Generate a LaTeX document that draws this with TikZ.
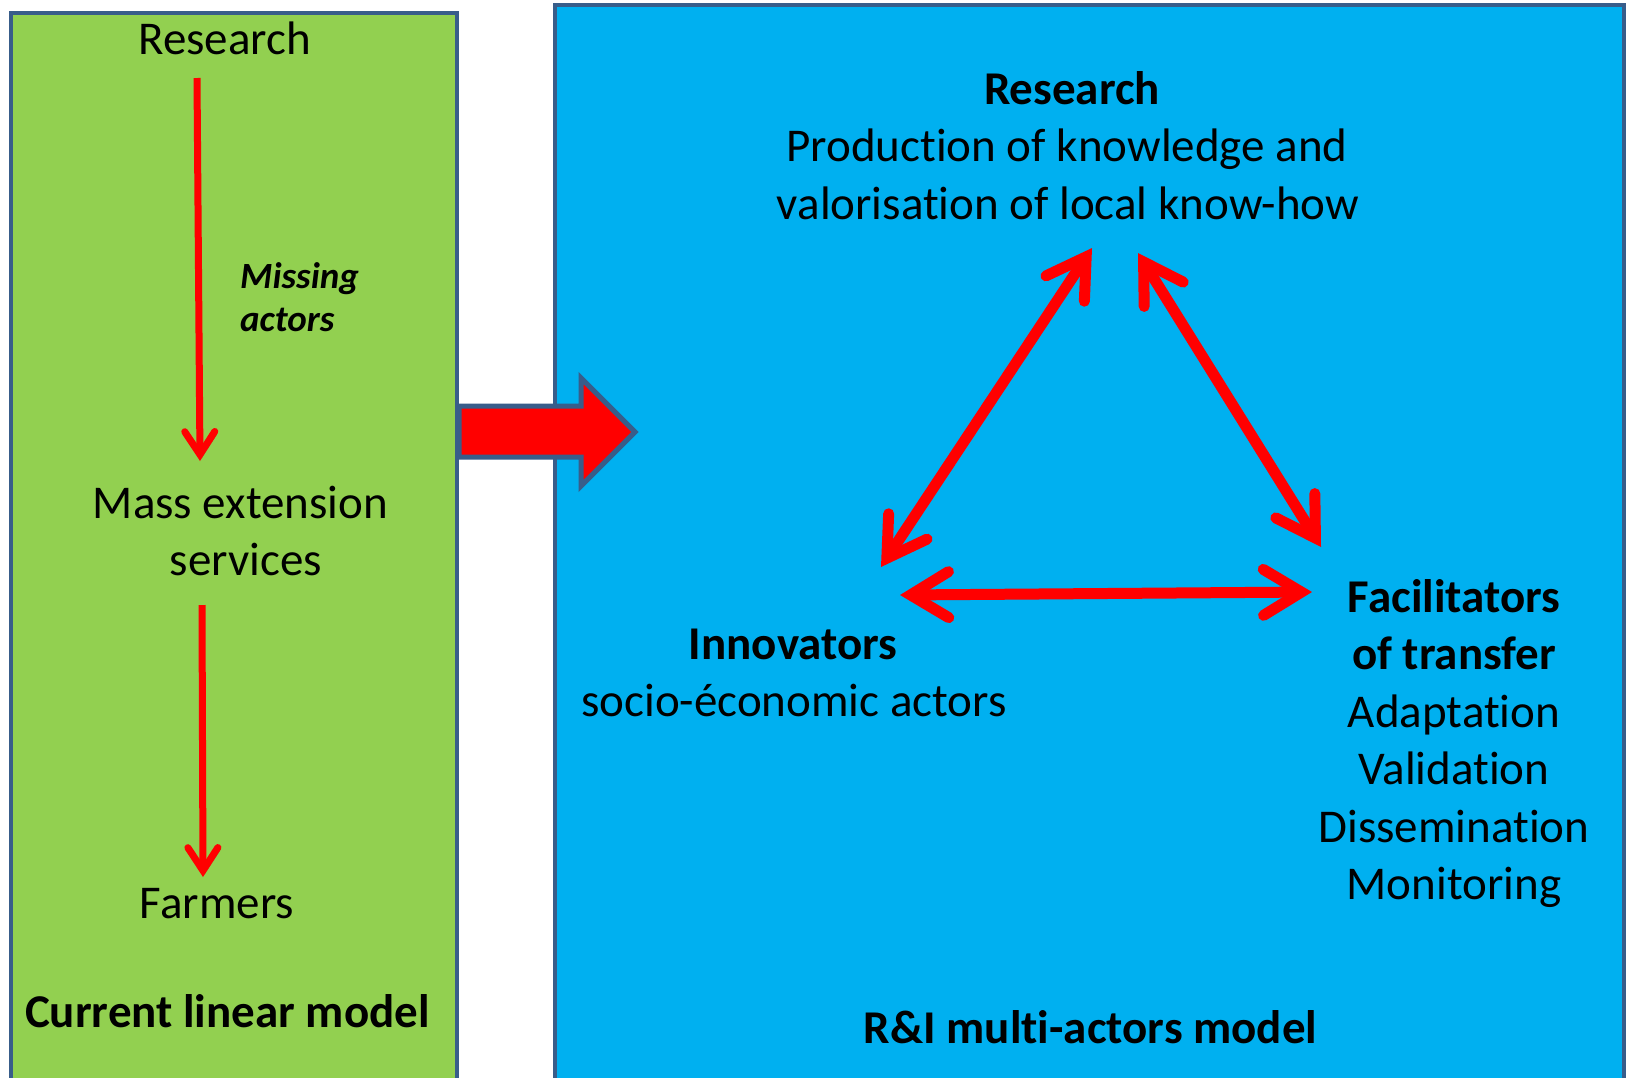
\documentclass[tikz,border=0pt]{standalone}
\usepackage{fontspec}
\setmainfont{Carlito}[Ligatures={NoCommon,NoRare,NoContextual}]
\usetikzlibrary{arrows.meta}
\definecolor{greenfill}{HTML}{92D050}
\definecolor{bluefill}{HTML}{00B0F0}
\definecolor{borderblue}{HTML}{385D8A}
\definecolor{arrowred}{HTML}{FF0000}
\newcommand\nolig{\kern0pt}
\begin{document}
\begin{tikzpicture}[x=1pt,y=-1pt,
  lbl/.style={font=\fontsize{47}{57.6}\selectfont, inner sep=0pt, anchor=base},
  lblb/.style={lbl, font=\fontsize{47}{57.6}\selectfont\bfseries},
  lbli/.style={font=\fontsize{37}{44}\selectfont\bfseries\itshape, inner sep=0pt, anchor=base west},
  arrshadow/.style={preaction={draw=black, opacity=0.18, transform canvas={shift={(2,3)}}}},
  thinarrow/.style={draw=arrowred, line width=7pt, arrshadow,
    -{Straight Barb[length=23pt, width=30pt, line join=miter, line cap=round]}},
  tribarrow/.style={draw=arrowred, line width=11pt, arrshadow,
    {Straight Barb[length=38pt, width=46pt, line join=miter, line cap=round]}-{Straight Barb[length=38pt, width=46pt, line join=miter, line cap=round]}},
  panel/.style={draw=borderblue, line width=4pt}
]
\useasboundingbox (0,0) rectangle (1627,1077);
\clip (0,0) rectangle (1627,1077);
\fill[white] (0,0) rectangle (1627,1077);

% panels
\path[panel, fill=greenfill] (10.5,13) rectangle (457,1100);
\path[panel, fill=bluefill] (555,5) rectangle (1624,1100);

% big transition arrow
\path[draw=borderblue, fill=arrowred, line width=5pt, line join=miter]
  (459,406) -- (581,406) -- (581,378) -- (635,432) -- (581,486) -- (581,457) -- (459,457) -- cycle;

% left panel: current linear model
\node[lbl] (lres) at (224.6,54) {Research};
\node[lbli] (miss1) at (240,288) {Missing};
\node[lbli] (miss2) at (240,331) {actors};
\node[lbl] (mass1) at (240.5,518) {Mass extension};
\node[lbl] (mass2) at (246,575) {services};
\node[lbl] (farm) at (217,918) {Farmers};
\node[lblb] (clm) at (227.5,1027) {Current linear model};

\coordinate (a1s) at (197,78);
\coordinate (a1e) at (200,461);
\coordinate (a2s) at (202,605);
\coordinate (a2e) at (203,877);
\draw[thinarrow] (a1s) -- (a1e);
\draw[thinarrow] (a2s) -- (a2e);

% right panel: R&I multi-actors model
\node[lblb] (rres) at (1072,104) {Research};
\node[lbl] (prod1) at (1067,161) {Product\nolig ion of knowledge and};
\node[lbl] (prod2) at (1068,219) {valorisat\nolig ion of local know-how};

\node[lblb] (innov) at (793,659) {Innovators};
\node[lbl] (socio) at (794,716) {socio-économic actors};

\node[lblb] (fac1) at (1454,612) {Facilitators};
\node[lblb] (fac2) at (1454,669) {of transfer};
\node[lbl] (fac3) at (1454,727) {Adaptat\nolig ion};
\node[lbl] (fac4) at (1454,784) {Validat\nolig ion};
\node[lbl] (fac5) at (1454,842) {Disseminat\nolig ion};
\node[lbl] (fac6) at (1454,899) {Monitoring};

\node[lblb] (rim) at (1090.5,1043) {R\&I multi-actors model};

\coordinate (t1a) at (1092,248);
\coordinate (t1b) at (881,567);
\coordinate (t2a) at (1138,253);
\coordinate (t2b) at (1321,547);
\coordinate (t3a) at (900,595);
\coordinate (t3b) at (1312,592);
\draw[tribarrow] (t1a) -- (t1b);
\draw[tribarrow] (t2a) -- (t2b);
\draw[tribarrow] (t3a) -- (t3b);
\end{tikzpicture}
\end{document}
